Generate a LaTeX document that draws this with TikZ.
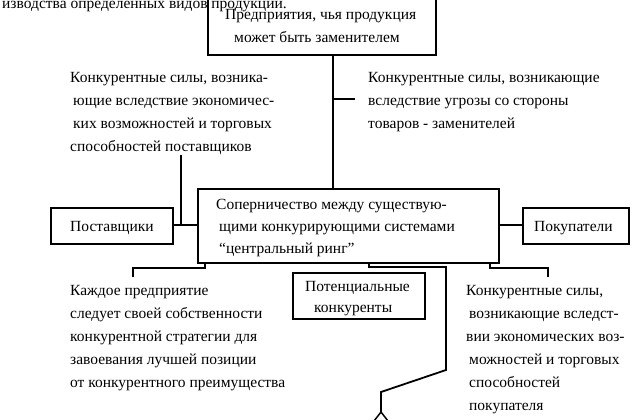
\documentclass[tikz,border=0pt]{standalone}
\usepackage{fontspec}
\setmainfont{Liberation Serif}
\begin{document}
\begin{tikzpicture}[x=1pt,y=-1pt,
  box/.style={draw,line width=2pt,inner sep=0pt},
  ln/.style={line width=1.8pt},
  txt/.style={anchor=base west,inner sep=0pt,align=left,font=\fontsize{15.5}{23}\selectfont},
  blk/.style={anchor=north west,inner sep=0pt,align=left,font=\fontsize{15.5}{23}\selectfont}]
\useasboundingbox (0,0) rectangle (640,420);
\begin{scope}
\clip (0,0) rectangle (640,420);
\node[box,minimum width=228pt,minimum height=60pt,anchor=north west] (top) at (207,-6) {};
\node[txt] (t0) at (2,9) {изводства определенных видов продукции.};
\end{scope}
\node[txt] (t1) at (225,20) {Предприятия, чья продукция};
\node[txt] (t2) at (234,43) {может быть заменителем};
\node[box,minimum width=301pt,minimum height=74pt,anchor=north west] (ring) at (197,188) {};
\node[txt] (r1) at (216,209) {Соперничество между существую-};
\node[txt] (r2) at (219,231) {щими конкурирующими системами};
\node[txt] (r3) at (219,253) {“центральный ринг”};
\node[box,minimum width=122pt,minimum height=36pt,anchor=north west] (sup) at (50,207) {};
\node[txt] (s1) at (70,231) {Поставщики};
\node[box,minimum width=106pt,minimum height=36pt,anchor=north west] (buy) at (522,207) {};
\node[txt] (b1) at (534,231) {Покупатели};
\node[box,minimum width=132pt,minimum height=46pt,anchor=north west] (pot) at (292,272) {};
\node[txt] (p1) at (305,291) {Потенциальные};
\node[txt] (p2) at (314,312) {конкуренты};
\node[blk] (lt) at (70,72) {Конкурентные силы, возника-\\\hspace*{3pt}ющие вследствие экономичес-\\\hspace*{3pt}ких возможностей и торговых\\способностей поставщиков};
\node[blk] (rt) at (368,72) {Конкурентные силы, возникающие\\вследствие угрозы со стороны\\товаров - заменителей};
\node[blk] (lb) at (70,285) {Каждое предприятие\\следует своей собственности\\конкурентной стратегии для\\завоевания лучшей позиции\\от конкурентного преимущества};
\node[blk] (rb) at (466,285) {Конкурентные силы,\\\hspace*{3pt}возникающие вследст-\\вии экономических воз-\\\hspace*{3pt}можностей и торговых\\\hspace*{3pt}способностей\\\hspace*{3pt}покупателя};
\coordinate (a) at (333,54);
\draw[ln] (a) -- (333,188);
\draw[ln] (333,99) -- (355,99);
\draw[ln] (181,155) -- (181,225) -- (197,225);
\draw[ln] (172,225) -- (197,225);
\draw[ln] (498,225) -- (522,225);
\draw[ln] (205,262) -- (205,268) -- (133,268) -- (133,277);
\draw[ln] (369,262) -- (369,267) -- (446,267) -- (446,370) -- (381,392) -- (381,413);
\draw[line width=1.5pt] (374,421) -- (381,412) -- (388,421);
\draw[ln] (490,262) -- (490,268) -- (548,268) -- (548,277);
\end{tikzpicture}
\end{document}
